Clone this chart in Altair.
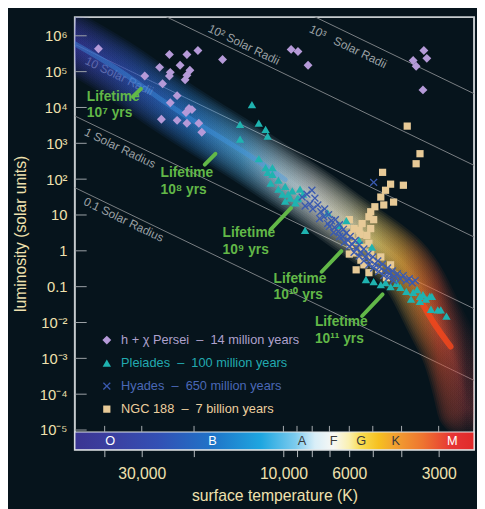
import altair as alt
import numpy as np
import pandas as pd

# ---------------- colours / fonts ----------------
BG = "#06141c"
CREAM = "#efe1ae"
FONT = "Liberation Sans, Arial, Helvetica, sans-serif"
BOLDFONT = "Liberation Sans, Arial, sans-serif"
GREEN = "#62b848"

# ---------------- star clusters (log10 T [K], log10 L [Lsun]) ----------------
CLUSTERS = [
    "h + \u03c7 Persei\u00a0 \u2013\u00a0 14 million years",
    "Pleiades\u00a0 \u2013\u00a0 100 million years",
    "Hyades\u00a0 \u2013\u00a0 650 million years",
    "NGC 188\u00a0 \u2013\u00a0 7 billion years",
]
CLUSTER_COLORS = ["#b59ad8", "#1fb3b0", "#3a5ab0", "#e7ca97"]
LABEL_COLORS = ["#aea1cd", "#22aab0", "#4a68b6", "#eccf9f"]
X_PATH = "M-1,-0.76L-0.76,-1L0,-0.24L0.76,-1L1,-0.76L0.24,0L1,0.76L0.76,1L0,0.24L-0.76,1L-1,0.76L-0.24,0Z"
CLUSTER_SHAPES = ["diamond", "triangle-up", X_PATH, "square"]
CLUSTER_SIZES = [82, 54, 46, 74]

PERSEI_LOG_T = [4.623, 4.384, 4.325, 4.288, 4.205, 4.417, 4.348, 4.381, 4.384, 4.467,
                4.315, 4.325, 4.331, 4.407, 4.358, 4.381, 4.318, 4.308, 4.328, 4.411,
                4.358, 4.325, 4.285, 4.275, 3.974, 3.951, 3.917, 3.527, 3.517, 3.563,
                3.553, 3.530]
PERSEI_LOG_L = [5.64, 5.48, 5.48, 5.59, 5.34, 5.12, 5.18, 4.98, 4.88, 4.88,
                5.04, 4.90, 4.77, 4.66, 4.33, 4.13, 3.97, 3.94, 3.86, 3.67,
                3.64, 3.56, 3.56, 3.31, 5.62, 5.56, 5.18, 5.59, 5.37, 5.31,
                5.15, 4.49]

NGC_LOG_T = [3.583, 3.540, 3.553, 3.666, 3.596, 3.639, 3.656, 3.672, 3.629, 3.662,
             3.692, 3.706, 3.712, 3.696, 3.735, 3.706, 3.778, 3.762, 3.719, 3.742,
             3.772, 3.755, 3.732, 3.706, 3.762, 3.788, 3.745, 3.775, 3.712, 3.778,
             3.739, 3.702, 3.672, 3.755, 3.712, 3.679, 3.653, 3.639, 3.729, 3.696]
NGC_LOG_L = [3.48, 2.71, 2.43, 2.19, 1.83, 1.86, 1.69, 1.50, 1.36, 1.28,
             1.23, 1.09, 0.95, 0.87, 0.76, 0.62, 0.87, 0.62, 0.43, 0.46,
             0.46, 0.27, 0.10, -0.04, -0.06, 0.73, 0.57, 0.18, 0.21, -0.09,
             -0.26, -0.20, -0.17, -0.53, -0.61, -0.53, -0.75, -0.39, -0.39, -0.37]

PLEIADES_LOG_T = [4.106, 4.146, 4.083, 4.060, 4.053, 4.146, 4.083, 4.060, 4.037, 4.053,
                  4.037, 4.017, 4.043, 3.994, 4.017, 3.970, 4.003, 3.977, 3.951, 3.994,
                  3.960, 3.944, 3.934, 3.984, 3.954, 3.927, 3.851, 3.788, 3.811, 3.745,
                  3.702, 3.722, 3.696, 3.672, 3.656, 3.639, 3.619, 3.606, 3.586, 3.563,
                  3.550, 3.540, 3.530, 3.507, 3.570, 3.540, 3.520, 3.500, 3.503, 3.480,
                  3.470, 3.451]
PLEIADES_LOG_L = [4.08, 3.53, 3.56, 3.39, 3.20, 3.12, 2.57, 2.32, 2.32, 2.19,
                  2.13, 1.97, 1.89, 1.80, 1.72, 1.67, 1.58, 1.47, 1.47, 1.39,
                  1.34, 1.72, 1.58, 1.58, 1.45, 0.57, 1.06, 0.84, 0.71, 0.29,
                  0.10, -0.80, -0.86, -0.94, -0.89, -1.00, -0.91, -1.02, -1.13, -1.16,
                  -1.08, -1.27, -1.22, -1.27, -1.35, -1.41, -1.35, -1.27, -1.63, -1.65,
                  -1.65, -1.82]

HYADES_LOG_T = [3.937, 3.921, 3.904, 3.911, 3.894, 3.927, 3.901, 3.884, 3.874, 3.861,
                3.864, 3.848, 3.838, 3.851, 3.825, 3.828, 3.811, 3.815, 3.798, 3.801,
                3.788, 3.782, 3.775, 3.768, 3.758, 3.755, 3.745, 3.739, 3.729, 3.725,
                3.715, 3.709, 3.699, 3.692, 3.682, 3.676, 3.666, 3.659, 3.649, 3.643,
                3.633, 3.626, 3.616, 3.606, 3.596, 3.586, 3.576, 3.566, 3.556, 3.646,
                3.679, 3.712, 3.745, 3.778, 3.811, 3.845, 3.878, 3.831, 3.795, 3.762,
                3.729, 3.696, 3.662, 3.629, 3.696]
HYADES_LOG_L = [1.50, 1.58, 1.69, 1.31, 1.47, 1.25, 1.17, 1.28, 1.09, 1.17,
                0.95, 1.01, 0.84, 0.76, 0.87, 0.65, 0.73, 0.54, 0.60, 0.40,
                0.49, 0.29, 0.40, 0.18, 0.29, 0.07, 0.16, -0.04, 0.05, -0.17,
                -0.09, -0.26, -0.17, -0.37, -0.28, -0.45, -0.37, -0.56, -0.48, -0.64,
                -0.56, -0.72, -0.64, -0.78, -0.69, -0.83, -0.78, -0.89, -0.83, -0.75,
                -0.58, -0.39, -0.15, 0.13, 0.40, 0.68, 0.90, 0.51, 0.24, -0.04,
                -0.28, -0.48, -0.69, -0.83, 1.91]

# ---------------- main-sequence glow path ----------------
GLOW_LOG_T = [4.74, 4.556, 4.424, 4.258, 4.116, 3.994, 3.894, 3.795, 3.696, 3.596,
              3.547, 3.507, 3.474, 3.437, 3.407, 3.384]
GLOW_LOG_L = [5.95, 5.09, 4.27, 3.39, 2.68, 1.99, 1.47, 0.84, 0.29, -0.31,
              -0.94, -1.63, -2.18, -2.72, -3.55, -4.37]
RED_LOG_T = [3.540, 3.507, 3.474, 3.437]
RED_LOG_L = [-1.35, -1.85, -2.26, -2.67]

# ---------------- lines of constant radius ----------------
RADII = [0.1, 1, 10, 100, 1000]
T_SUN = 5778.0
RADIUS_LABELS = ["0.1 Solar Radius", "1 Solar Radius", "10 Solar Radii",
                 "10\u00b2 Solar Radii", "10\u00b3\u00a0\u00a0 Solar Radii"]
RADIUS_LABEL_LOG_T = [4.538, 4.550, 4.553, 4.133, 3.782]
RADIUS_LABEL_LOG_L = [0.87, 2.87, 4.875, 5.753, 5.698]

# ---------------- lifetime annotations ----------------
LIFETIME_TEXT = ["Lifetime\n10\u2077 yrs", "Lifetime\n10\u2078 yrs", "Lifetime\n10\u2079 yrs",
                 "Lifetime\n10\u00b9\u2070 yrs", "Lifetime\n10\u00b9\u00b9 yrs"]
LIFETIME_LOG_T = [4.662, 4.414, 4.205, 4.033, 3.894]
LIFETIME_LOG_L = [4.189, 2.049, 0.376, -0.886, -2.093]
LEADER_LOG_T1 = [4.507, 4.265, 4.043, 3.871, 3.735]
LEADER_LOG_L1 = [4.299, 2.406, 0.595, -0.584, -1.819]
LEADER_LOG_T2 = [4.480, 4.229, 3.974, 3.805, 3.666]
LEADER_LOG_L2 = [4.518, 2.708, 1.199, -0.008, -1.215]

# ---------------- spectral bar ----------------
SPECTRAL = ["O", "B", "A", "F", "G", "K", "M"]
SPECTRAL_LOG_T = [4.583, 4.239, 3.937, 3.831, 3.738, 3.622, 3.431]
SPECTRAL_TEXT_COLORS = ["#ffffff", "#ffffff", "#3a3a3a", "#3a3a3a", "#3a3a3a", "#3a3a3a", "#ffffff"]
BAR_TOP_LOG_L = -5.055
BAR_LETTER_LOG_L = -5.30

# ---------------- axes ----------------
T_MIN, T_MAX = 2280, 50400
L_MIN, L_MAX = 10 ** -5.55, 10 ** 6.521
X_TICKS = [40000, 30000, 20000, 10000, 9000, 8000, 7000, 6000, 5000, 4000, 3000]
X_TICK_LABELS = {30000: "30,000", 10000: "10,000", 6000: "6000", 3000: "3000"}
Y_TICK_EXP = [6, 5, 4, 3, 2, 1, 0, -1, -2, -3, -4, -5]
Y_TICK_LABELS = ["10\u2076", "10\u2075", "10\u2074", "10\u00b3", "10\u00b2", "10", "1", "0.1",
                 "10\u207b\u00b2", "10\u207b\u00b3", "10\u207b\u2074", "10\u207b\u2075"]
Y_TICKS = [10.0 ** e for e in Y_TICK_EXP]

x_expr = "".join(f"datum.value == {v} ? '{s}' : " for v, s in X_TICK_LABELS.items()) + "''"
y_expr = "".join(f"round(log(datum.value)/LN10) == {e} ? '{s}' : "
                 for e, s in zip(Y_TICK_EXP, Y_TICK_LABELS)) + "''"

XSCALE = alt.Scale(type="log", domain=[T_MIN, T_MAX], reverse=True, nice=False)
YSCALE = alt.Scale(type="log", domain=[L_MIN, L_MAX], nice=False)
XAXIS = alt.Axis(values=X_TICKS, labelExpr=x_expr, tickSize=7, tickColor="#b9bec1",
                 domain=False, grid=False, labelFontSize=16, labelFont=FONT, labelColor=CREAM,
                 labelPadding=9, labelOverlap=False, labelFlush=False,
                 title="surface temperature (K)", titleFontSize=16, titleFont=FONT,
                 titleColor=CREAM, titleFontWeight="normal", titlePadding=7)
YAXIS = alt.Axis(values=Y_TICKS, labelExpr=y_expr, ticks=False, domain=False, grid=False,
                 labelFontSize=15, labelFont=FONT, labelColor=CREAM, labelPadding=8,
                 labelOverlap=False, labelFlush=False,
                 title="luminosity (solar units)", titleFontSize=16, titleFont=FONT,
                 titleColor=CREAM, titleFontWeight="normal", titlePadding=11)


def X(field="T"):
    return alt.X(f"{field}:Q", scale=XSCALE, axis=XAXIS)


def Y(field="L"):
    return alt.Y(f"{field}:Q", scale=YSCALE, axis=YAXIS)


def grad(stops):
    return alt.LinearGradient(gradient="linear", x1=0, x2=1, y1=0, y2=0,
                              stops=[alt.GradientStop(offset=o, color=c) for o, c in stops])


# ---------------- data frames ----------------
rows = []
for name, lt, ll in [(CLUSTERS[0], PERSEI_LOG_T, PERSEI_LOG_L),
                     (CLUSTERS[3], NGC_LOG_T, NGC_LOG_L),
                     (CLUSTERS[1], PLEIADES_LOG_T, PLEIADES_LOG_L),
                     (CLUSTERS[2], HYADES_LOG_T, HYADES_LOG_L)]:
    for a, b in zip(lt, ll):
        rows.append({"cluster": name, "T": 10 ** a, "L": 10 ** b})
stars = pd.DataFrame(rows)
stars["i"] = range(len(stars))

rad_rows = []
for R in RADII:
    for lt in (4.9, 3.2):
        rad_rows.append({"R": str(R), "T": 10 ** lt,
                         "L": 10 ** (2 * np.log10(R) + 4 * (lt - np.log10(T_SUN)))})
radius_df = pd.DataFrame(rad_rows)
radius_lbl = pd.DataFrame({"text": RADIUS_LABELS, "T": np.power(10, RADIUS_LABEL_LOG_T),
                           "L": np.power(10, RADIUS_LABEL_LOG_L)})

glow = pd.DataFrame({"T": np.power(10, GLOW_LOG_T), "L": np.power(10, GLOW_LOG_L),
                     "i": range(len(GLOW_LOG_T))})
core = glow.iloc[:6]
red = pd.DataFrame({"T": np.power(10, RED_LOG_T), "L": np.power(10, RED_LOG_L),
                    "i": range(len(RED_LOG_T))})

life = pd.DataFrame({"text": LIFETIME_TEXT, "T": np.power(10, LIFETIME_LOG_T),
                     "L": np.power(10, LIFETIME_LOG_L)})
leaders = pd.DataFrame({"T": np.power(10, LEADER_LOG_T1), "L": np.power(10, LEADER_LOG_L1),
                        "T2": np.power(10, LEADER_LOG_T2), "L2": np.power(10, LEADER_LOG_L2)})

bar = pd.DataFrame({"T": [T_MAX], "T2": [T_MIN], "L": [L_MIN], "L2": [10 ** BAR_TOP_LOG_L]})
letters = pd.DataFrame({"s": SPECTRAL, "T": np.power(10, SPECTRAL_LOG_T),
                        "L": [10 ** BAR_LETTER_LOG_L] * len(SPECTRAL),
                        "c": SPECTRAL_TEXT_COLORS})
xticks_df = pd.DataFrame({"T": X_TICKS})
yticks_df = pd.DataFrame({"L": Y_TICKS})

# ---------------- layers ----------------
radius_lines = alt.Chart(radius_df).mark_line(clip=True, color="#7b8185", strokeWidth=1).encode(
    x=X(), y=Y(), detail="R:N")
radius_text = alt.Chart(radius_lbl).mark_text(angle=25.8, fontSize=12, font=FONT, color="#9ba1a5",
                                              align="center", baseline="middle").encode(
    x=X(), y=Y(), text="text:N")

GLOW_STOPS = [(0.0, "#3a36a4"), (0.03, "#3c3ca8"), (0.16, "#3355c0"), (0.31, "#2d7fd8"),
              (0.44, "#5ab4ec"), (0.54, "#c4e6f6"), (0.62, "#f2f5f0"), (0.71, "#f6eec4"),
              (0.78, "#f5d870"), (0.84, "#f2ae40"), (0.89, "#ee7c30"), (0.93, "#e65432"),
              (1.0, "rgba(190,70,70,0.35)")]
glow_layers = []
for w in [60, 56, 52, 48, 44, 40, 36, 32, 28, 24, 20, 16, 12, 8, 5]:
    glow_layers.append(alt.Chart(glow).mark_line(
        clip=True, interpolate="basis", strokeCap="round", strokeJoin="round",
        strokeWidth=w, opacity=0.085, stroke=grad(GLOW_STOPS)).encode(x=X(), y=Y(), order="i:Q"))
core_line = alt.Chart(core).mark_line(clip=True, interpolate="basis", strokeCap="round",
                                      strokeWidth=5, opacity=0.4, color="#3f95e6").encode(
    x=X(), y=Y(), order="i:Q")
red_line = alt.Chart(red).mark_line(clip=True, interpolate="basis", strokeCap="round",
                                    strokeWidth=6, opacity=0.85, color="#f2461c").encode(
    x=X(), y=Y(), order="i:Q")

BAR_STOPS = [(0.0, "#3a3592"), (0.089, "#3b3fa0"), (0.207, "#3350b4"), (0.345, "#1f74c8"),
             (0.466, "#1ea6e0"), (0.552, "#7ccbee"), (0.601, "#d8eef8"), (0.648, "#f8f8f4"),
             (0.687, "#faf0b0"), (0.717, "#f8dc50"), (0.761, "#f6c020"), (0.803, "#f2a030"),
             (0.872, "#ee7430"), (0.946, "#e63434"), (1.0, "#e02a2a")]
bar_rect = alt.Chart(bar).mark_rect(fill=grad(BAR_STOPS), stroke="#e4e7e9", strokeWidth=1.2).encode(
    x=X(), x2="T2:Q", y=Y(), y2="L2:Q")
bar_text = alt.Chart(letters).mark_text(fontSize=13, font=FONT, align="center",
                                        baseline="middle").encode(
    x=X(), y=Y(), text="s:N", color=alt.Color("c:N", scale=None))

inner_xticks = alt.Chart(xticks_df).mark_rule(color="#a9aeb1", strokeWidth=1).encode(
    x=X(), y=alt.datum(10 ** BAR_TOP_LOG_L), y2=alt.datum(10 ** (BAR_TOP_LOG_L + 0.17)))
inner_yticks = alt.Chart(yticks_df).mark_rule(color="#9ea4a8", strokeWidth=1).encode(
    y=Y(), x=alt.value(0), x2=alt.value(12))

leader_lines = alt.Chart(leaders).mark_rule(color=GREEN, strokeWidth=4, strokeCap="round").encode(
    x=X(), y=Y(), x2="T2:Q", y2="L2:Q")

lab_expr = "".join(f"datum.value == '{n}' ? '{c}' : " for n, c in zip(CLUSTERS, LABEL_COLORS)) + "'#ffffff'"
LEG = alt.Legend(orient="none", legendX=26, legendY=322, title=None, padding=0,
                 labelFont=FONT, labelFontSize=13, labelColor={"expr": lab_expr},
                 labelOffset=8, rowPadding=9.4, labelLimit=400, symbolStrokeWidth=0)
points = alt.Chart(stars).mark_point(filled=True, opacity=1, strokeWidth=0).encode(
    x=X(), y=Y(),
    color=alt.Color("cluster:N", scale=alt.Scale(domain=CLUSTERS, range=CLUSTER_COLORS), legend=LEG),
    shape=alt.Shape("cluster:N", scale=alt.Scale(domain=CLUSTERS, range=CLUSTER_SHAPES), legend=LEG),
    size=alt.Size("cluster:N", scale=alt.Scale(domain=CLUSTERS, range=CLUSTER_SIZES), legend=LEG),
    order="i:Q")

life_text = alt.Chart(life).mark_text(lineBreak="\n", align="left", baseline="alphabetic",
                                      fontSize=14, fontWeight="bold", font=BOLDFONT, color=GREEN,
                                      lineHeight=17).encode(x=X(), y=Y(), text="text:N")

chart = alt.layer(
    radius_lines, radius_text, *glow_layers, core_line, red_line,
    bar_rect, bar_text, inner_xticks, inner_yticks, leader_lines, points, life_text
).properties(
    width=406, height=440, background=BG,
    padding={"left": 68, "right": 3, "top": 5, "bottom": 56},
    autosize=alt.AutoSizeParams(type="none"),
).configure_view(stroke="#c6cbce", strokeWidth=2)

chart.save("out.html", embed_options={"renderer": "svg", "actions": False})
